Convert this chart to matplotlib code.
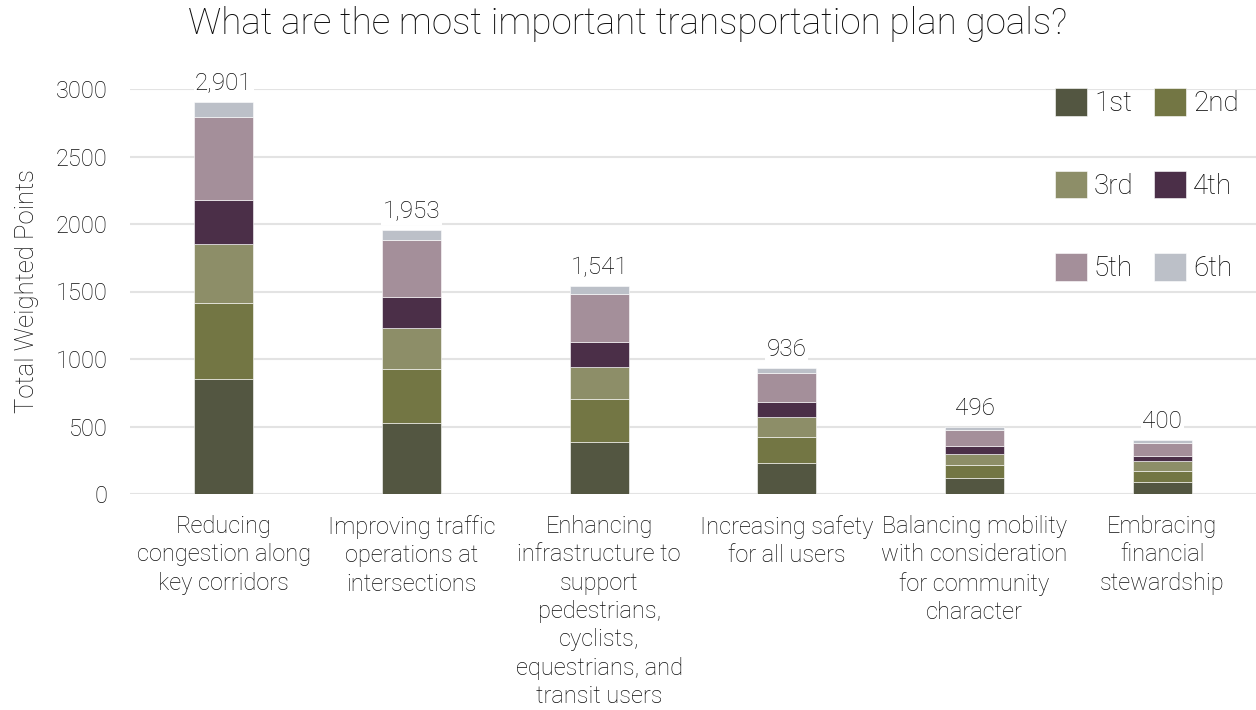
import matplotlib
matplotlib.use("Agg")
import matplotlib.pyplot as plt
import numpy as np

categories = [
    "Reducing\ncongestion along\nkey corridors",
    "Improving traffic\noperations at\nintersections",
    "Enhancing\ninfrastructure to\nsupport\npedestrians,\ncyclists,\nequestrians, and\ntransit users",
    "Increasing safety\nfor all users",
    "Balancing mobility\nwith consideration\nfor community\ncharacter",
    "Embracing\nfinancial\nstewardship",
]
rank_labels = ["1st", "2nd", "3rd", "4th", "5th", "6th"]
first = [852, 523, 388, 227, 121, 91]
second = [560, 405, 318, 193, 96, 82]
third = [440, 302, 235, 150, 79, 69]
fourth = [323, 232, 187, 114, 57, 42]
fifth = [620, 419, 356, 215, 123, 96]
sixth = [106, 72, 57, 37, 20, 20]
totals = [2901, 1953, 1541, 936, 496, 400]
yticks = [0, 500, 1000, 1500, 2000, 2500, 3000]

colors = ["#535641", "#737644", "#8d8e68", "#4b2f48", "#a48f9a", "#bcc0c8"]
txt = "#0d0d0d"

plt.rcParams["font.family"] = ["Roboto", "DejaVu Sans"]
plt.rcParams["font.weight"] = "light"
plt.rcParams["axes.labelweight"] = "light"
plt.rcParams["figure.titleweight"] = "light"

fig = plt.figure(figsize=(12.56, 7.10), dpi=100)
ax = fig.add_axes([130 / 1256, 1 - 494 / 710, 1 - 130 / 1256, (494 - 89) / 710])

x = np.arange(len(categories))
series = [first, second, third, fourth, fifth, sixth]
bottom = np.zeros(len(categories))
handles = []
for vals, col, lab in zip(series, colors, rank_labels):
    bc = ax.bar(x, vals, width=0.315, bottom=bottom, color=col, label=lab,
                edgecolor="white", linewidth=0.4, zorder=3)
    handles.append(bc)
    bottom += np.array(vals)

for xi, t in zip(x, totals):
    ax.text(xi, t + 50, f"{t:,}", ha="center", va="bottom", fontsize=17.5,
            color=txt, zorder=5,
            bbox=dict(facecolor="white", edgecolor="none", pad=1.0))

ax.set_xlim(-0.5, len(categories) - 0.5)
ax.set_ylim(0, 3000)
ax.set_yticks(yticks)
ax.set_yticklabels([str(v) for v in yticks], fontsize=17, color=txt)
ax.set_xticks(x)
ax.set_xticklabels(categories, fontsize=17, color=txt, linespacing=1.3, va="top")
ax.tick_params(axis="y", length=0, pad=16)
ax.tick_params(axis="x", length=0, pad=15)
ax.yaxis.grid(True, color="#e3e3e3", linewidth=1.5, zorder=0)
ax.set_axisbelow(True)
for s in ax.spines.values():
    s.set_visible(False)

ax.set_ylabel("Total Weighted Points", fontsize=18.5, color=txt)
ax.yaxis.set_label_coords(-0.081, 0.5)

fig.suptitle("What are the most important transportation plan goals?",
             x=0.5, y=0.992, fontsize=26.5, color=txt, va="top")

# legend filled row by row: 1st 2nd / 3rd 4th / 5th 6th
order = [0, 2, 4, 1, 3, 5]
leg = ax.legend([handles[i] for i in order], [rank_labels[i] for i in order],
                ncols=2, loc="upper right",
                bbox_to_anchor=(1239 / 1256, 1 - 88 / 710),
                bbox_transform=fig.transFigure,
                frameon=False, fontsize=20, handlelength=1.15, handleheight=1.15,
                handletextpad=0.25, labelspacing=1.92, columnspacing=0.75,
                borderpad=0, borderaxespad=0)

fig.savefig("out.png", dpi=100, facecolor="white")
